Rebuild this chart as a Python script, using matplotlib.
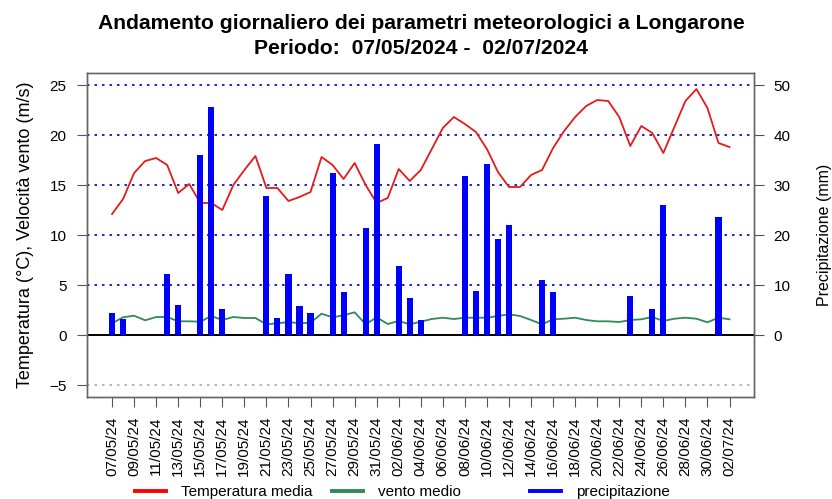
import numpy as np
import pandas as pd
import matplotlib
matplotlib.use('Agg')
import matplotlib.pyplot as plt
import matplotlib.dates as mdates
from matplotlib.lines import Line2D

plt.rcParams['font.family'] = ['Liberation Sans', 'DejaVu Sans']

# daily data 07/05/2024 - 02/07/2024
dates = pd.date_range('2024-05-07', '2024-07-02', freq='D')

temp = [12.1, 13.6, 16.2, 17.4, 17.7, 17.0, 14.2, 15.1, 13.2, 13.2,
        12.5, 15.0, 16.5, 17.9, 14.7, 14.7, 13.4, 13.8, 14.3, 17.8,
        17.0, 15.6, 17.2, 15.0, 13.2, 13.7, 16.6, 15.4, 16.5, 18.6,
        20.7, 21.8, 21.1, 20.3, 18.6, 16.3, 14.8, 14.8, 16.0, 16.5,
        18.7, 20.4, 21.8, 22.9, 23.5, 23.4, 21.8, 18.9, 20.9, 20.2,
        18.2, 20.8, 23.4, 24.6, 22.7, 19.2, 18.8]

vento = [1.17, 1.77, 1.93, 1.47, 1.8, 1.8, 1.37, 1.37, 1.33, 1.9,
         1.5, 1.8, 1.7, 1.7, 1.07, 1.17, 1.3, 1.17, 1.23, 2.13,
         1.77, 1.97, 2.27, 1.07, 1.77, 1.1, 1.4, 1.07, 1.33, 1.6,
         1.73, 1.6, 1.73, 1.73, 1.73, 1.9, 2.07, 1.9, 1.5, 1.07,
         1.57, 1.63, 1.73, 1.5, 1.37, 1.37, 1.3, 1.5, 1.57, 1.8,
         1.4, 1.63, 1.73, 1.63, 1.27, 1.73, 1.57]

prec = [4.5, 3.2, 0, 0, 0, 12.2, 6.1, 0, 36.0, 45.7,
        5.3, 0, 0, 0, 27.9, 3.5, 12.2, 5.9, 4.4, 0,
        32.5, 8.7, 0, 21.4, 38.3, 0, 13.9, 7.5, 3.1, 0,
        0, 0, 31.8, 8.9, 34.3, 19.2, 22.1, 0, 0, 11.0,
        8.6, 0, 0, 0, 0, 0, 0, 7.9, 0, 5.3,
        26.0, 0, 0, 0, 0, 23.7, 0]

fig = plt.figure(figsize=(8.32, 4.99), dpi=100)
ax = fig.add_axes([0.105, 0.2044, 0.8015, 0.6493])
ax2 = ax.twinx()

# grid lines
for y in [5, 10, 15, 20, 25]:
    ax.axhline(y, color='#0000cc', ls=(0, (1.5, 3)), lw=1.2, zorder=1)
ax.axhline(-5, color='#aaaaaa', ls=(0, (1.5, 3)), lw=1.2, zorder=1)
ax.axhline(0, color='black', lw=1.4, zorder=1)

ax.plot(dates, temp, color='#e41a1c', lw=1.3, zorder=3)
ax.plot(dates, vento, color='#2e8b57', lw=1.3, zorder=3)

ax2.bar(dates, prec, width=0.55, color='#0000ff', zorder=3)

x0 = dates[0] - pd.Timedelta(days=2.24)
x1 = dates[-1] + pd.Timedelta(days=2.24)
ax.set_xlim(x0, x1)
ax.set_ylim(-6.2, 26.2)
ax2.set_ylim(-12.4, 52.4)

ax.set_yticks([-5, 0, 5, 10, 15, 20, 25])
ax2.set_yticks([0, 10, 20, 30, 40, 50])
ax.set_xticks(dates[::2])
ax.xaxis.set_major_formatter(mdates.DateFormatter('%d/%m/%y'))

ax.tick_params(axis='x', rotation=90, labelsize=11, length=7, pad=7, color='#555555')
ax.tick_params(axis='y', labelsize=11, length=7, pad=8, color='#555555')
ax2.tick_params(axis='y', labelsize=11, length=7, pad=7, color='#555555')

for a in (ax, ax2):
    for s in a.spines.values():
        s.set_color('#666666')
        s.set_linewidth(1.0)

ax.set_ylabel('Temperatura (°C), Velocità vento (m/s)', fontsize=13, labelpad=11)
ax2.set_ylabel('Precipitazione (mm)', fontsize=11.5, labelpad=19)

fig.text(0.506, 1 - 29 / 499, 'Andamento giornaliero dei parametri meteorologici a Longarone',
         ha='center', va='baseline', fontsize=15.2, fontweight='bold')
fig.text(0.506, 1 - 54 / 499, 'Periodo:  07/05/2024 -  02/07/2024',
         ha='center', va='baseline', fontsize=15.2, fontweight='bold')

# legend row at the bottom
entries = [('Temperatura media', '#ff0000', 135),
           ('vento medio', '#2e8b57', 332),
           ('precipitazione', '#0000ff', 530)]
for label, col, xpix in entries:
    h = Line2D([], [], color=col, lw=2.8)
    fig.legend(handles=[h], labels=[label], loc='center left',
               bbox_to_anchor=(xpix / 832, 1 - 492 / 499), frameon=False,
               borderpad=0, borderaxespad=0, handlelength=2.0,
               handletextpad=1.0, fontsize=11)

fig.savefig('out.png', dpi=100)
